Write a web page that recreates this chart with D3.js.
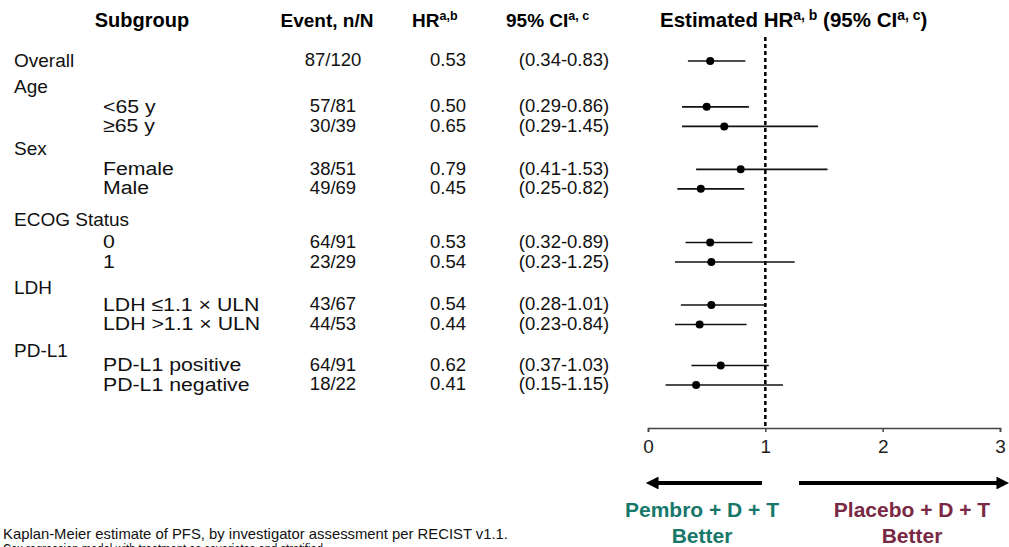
<!DOCTYPE html>
<html><head><meta charset="utf-8">
<script src="https://cdn.jsdelivr.net/npm/d3@7"></script>
<style>
html,body{margin:0;padding:0;background:#fff;overflow:hidden;}
svg{display:block;font-family:"Liberation Sans",Arial,sans-serif;}
</style></head>
<body><svg id="chart" width="1009" height="547"></svg>
<script>
// ---- data ----
const groups = ["Overall", "Age", "Sex", "ECOG Status", "LDH", "PD-L1"];
const rowLabels = ["Overall", "<65 y", "≥65 y", "Female", "Male", "0", "1",
  "LDH ≤1.1 × ULN", "LDH >1.1 × ULN", "PD-L1 positive", "PD-L1 negative"];
const rowGroup = ["Overall", "Age", "Age", "Sex", "Sex", "ECOG Status", "ECOG Status",
  "LDH", "LDH", "PD-L1", "PD-L1"];
const events = ["87/120", "57/81", "30/39", "38/51", "49/69", "64/91", "23/29",
  "43/67", "44/53", "64/91", "18/22"];
const hr = [0.53, 0.50, 0.65, 0.79, 0.45, 0.53, 0.54, 0.54, 0.44, 0.62, 0.41];
const ciLow = [0.34, 0.29, 0.29, 0.41, 0.25, 0.32, 0.23, 0.28, 0.23, 0.37, 0.15];
const ciHigh = [0.83, 0.86, 1.45, 1.53, 0.82, 0.89, 1.25, 1.01, 0.84, 1.03, 1.15];
const xTicks = [0, 1, 2, 3];
const leftLabel = ["Pembro + D + T", "Better"];
const rightLabel = ["Placebo + D + T", "Better"];
const footnotes = [
  "Kaplan-Meier  estimate  of PFS,  by investigator  assessment per RECIST  v1.1.",
  "Cox regression model with treatment as covariates and stratified"
];

// ---- layout constants ----
const groupGaps = [0, 2.35, 2.2, 2.75, 2.2, 2.1];
const headerOffsets = [0, 20, 19.5, 22, 16.5, 14.5];
const slots = [];
let s = 0;
rowGroup.forEach((g, i) => {
  if (i > 0) {
    if (g !== rowGroup[i - 1]) s += groupGaps[groups.indexOf(g)];
    else s += 1;
  }
  slots.push(s);
});
const y = d3.scaleLinear().domain([0, d3.max(slots)]).range([60, 384]);
const x = d3.scaleLinear().domain([0, 3]).range([648, 1000]);

const svg = d3.select("#chart");
const FS = 18.5;

// headers
const hdr = svg.append("g").attr("font-weight", "bold").attr("font-size", 19).attr("fill", "#000");
function header(xp, main, sup, anchor, fs) {
  const t = hdr.append("text").attr("x", xp).attr("y", 27).attr("text-anchor", anchor || "start");
  if (fs) t.attr("font-size", fs);
  t.append("tspan").text(main);
  if (sup) t.append("tspan").attr("font-size", 12.5).attr("dy", -7).text(sup);
  return t;
}
header(142, "Subgroup", null, "middle", 20);
header(327, "Event, n/N", null, "middle");
header(412, "HR", "a,b");
header(506, "95% CI", "a, c");
const eh = hdr.append("text").attr("x", 660).attr("y", 27).attr("font-size", 20.5);
eh.append("tspan").text("Estimated HR");
eh.append("tspan").attr("font-size", 14).attr("dy", -7).text("a, b");
eh.append("tspan").attr("dy", 7).text(" (95% CI");
eh.append("tspan").attr("font-size", 14).attr("dy", -7).text("a, c");
eh.append("tspan").attr("dy", 7).text(")");

// group headers
const tbl = svg.append("g").attr("font-size", FS).attr("fill", "#111");
groups.forEach((g, gi) => {
  const i = rowGroup.indexOf(g);
  if (g === "Overall") return;
  tbl.append("text").attr("x", 14).attr("y", y(slots[i]) - headerOffsets[gi]).attr("dy", "0.35em")
    .attr("font-size", 19).text(g);
});

rowLabels.forEach((lab, i) => {
  const yy = y(slots[i]);
  if (lab === "Overall") {
    tbl.append("text").attr("x", 14).attr("y", yy).attr("dy", "0.35em").attr("font-size", 19).text(lab);
  } else {
    tbl.append("text").attr("transform", `translate(103,${yy}) scale(1.12,1)`)
      .attr("dy", "0.35em").attr("font-size", 19).text(lab);
  }
  tbl.append("text").attr("x", 333).attr("y", yy).attr("dy", "0.35em").attr("text-anchor", "middle").text(events[i]);
  tbl.append("text").attr("x", 448).attr("y", yy).attr("dy", "0.35em").attr("text-anchor", "middle").text(hr[i].toFixed(2));
  tbl.append("text").attr("x", 564).attr("y", yy).attr("dy", "0.35em").attr("text-anchor", "middle")
    .text("(" + ciLow[i].toFixed(2) + "-" + ciHigh[i].toFixed(2) + ")");
});

// reference dashed line
svg.append("line").attr("x1", x(1)).attr("x2", x(1)).attr("y1", 37).attr("y2", 428)
  .attr("stroke", "#000").attr("stroke-width", 2.5).attr("stroke-dasharray", "4,3");

// CI lines and points
const plot = svg.append("g");
plot.selectAll("line.ci").data(hr).join("line").attr("class", "ci")
  .attr("x1", (d, i) => x(ciLow[i])).attr("x2", (d, i) => x(ciHigh[i]))
  .attr("y1", (d, i) => y(slots[i]) + 1).attr("y2", (d, i) => y(slots[i]) + 1)
  .attr("stroke", "#111").attr("stroke-width", 1.6);
plot.selectAll("circle").data(hr).join("circle")
  .attr("cx", d => x(d)).attr("cy", (d, i) => y(slots[i]) + 1).attr("r", 4).attr("fill", "#000");

// axis
const axis = svg.append("g").attr("transform", "translate(0,428)")
  .call(d3.axisBottom(x).tickValues(xTicks).tickSize(4).tickPadding(8).tickFormat(d3.format("d")));
axis.select(".domain").attr("stroke", "#444").attr("stroke-width", 1.6);
axis.selectAll(".tick line").attr("stroke", "#444").attr("stroke-width", 1.5);
axis.selectAll(".tick text").attr("font-size", 19).attr("fill", "#222").attr("font-family", "Liberation Sans, Arial, sans-serif");

// arrows
const defs = svg.append("defs");
defs.append("marker").attr("id", "ah").attr("viewBox", "0 0 10 10").attr("refX", 2).attr("refY", 5)
  .attr("markerWidth", 4.2).attr("markerHeight", 3.2).attr("orient", "auto")
  .append("path").attr("d", "M0,0 L10,5 L0,10 Z").attr("fill", "#000");
svg.append("line").attr("x1", 762).attr("x2", x(0) + 8).attr("y1", 483).attr("y2", 483)
  .attr("stroke", "#000").attr("stroke-width", 4).attr("marker-end", "url(#ah)");
svg.append("line").attr("x1", 799).attr("x2", 999).attr("y1", 483).attr("y2", 483)
  .attr("stroke", "#000").attr("stroke-width", 4).attr("marker-end", "url(#ah)");

const lblG = svg.append("g").attr("font-weight", "bold").attr("font-size", 21).attr("text-anchor", "middle");
leftLabel.forEach((t, i) => lblG.append("text").attr("x", 702).attr("y", 517 + i * 26).attr("fill", "#17786a").text(t));
rightLabel.forEach((t, i) => lblG.append("text").attr("x", 912).attr("y", 517 + i * 26).attr("fill", "#7a2944").text(t));

// footnotes
const fn = svg.append("g").attr("font-size", 15).attr("fill", "#111");
fn.append("text").attr("x", 3).attr("y", 539).attr("textLength", 505).attr("lengthAdjust", "spacingAndGlyphs").text(footnotes[0]);
fn.append("text").attr("x", 3).attr("y", 554).attr("textLength", 320).attr("lengthAdjust", "spacingAndGlyphs").text(footnotes[1]);
</script></body></html>
